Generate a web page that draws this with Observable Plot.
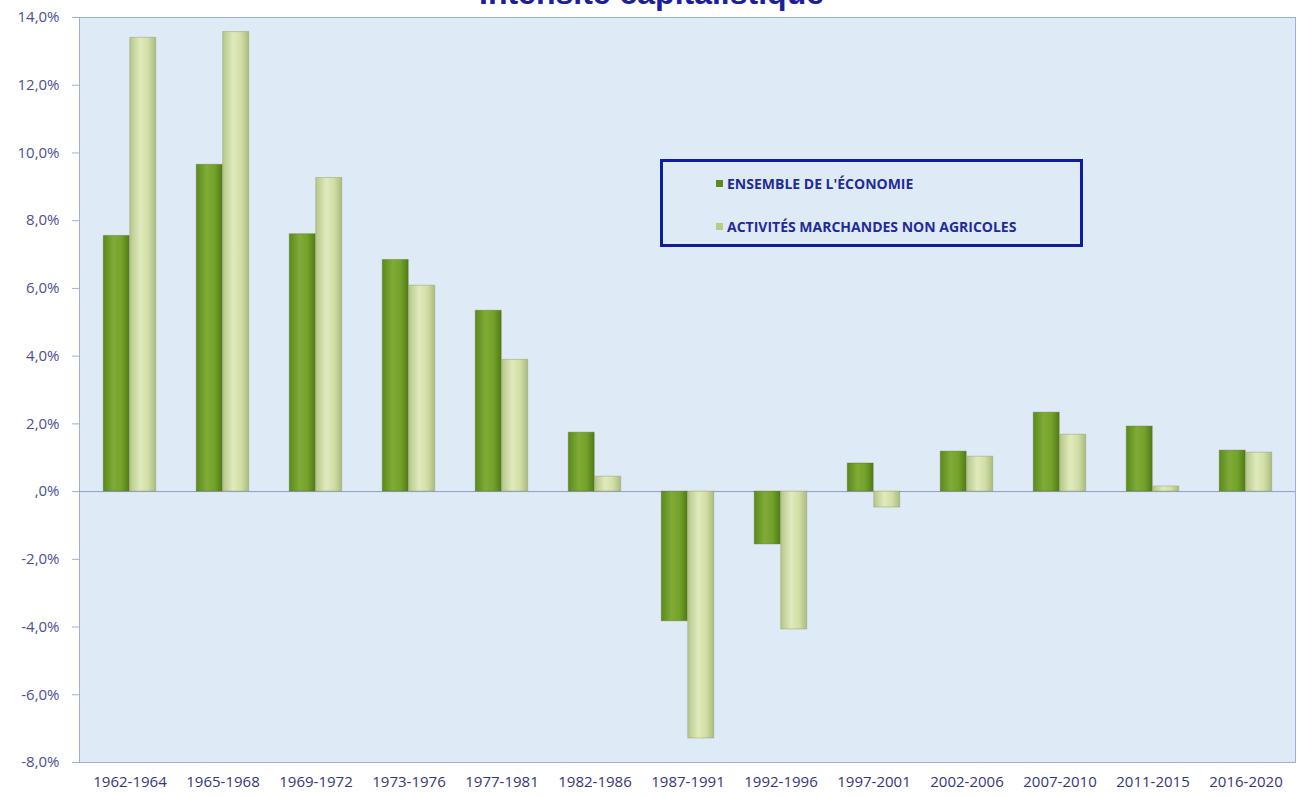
<!DOCTYPE html>
<html>
<head>
<meta charset="utf-8">
<script src="https://cdn.jsdelivr.net/npm/d3@7"></script>
<script src="https://cdn.jsdelivr.net/npm/@observablehq/plot@0.6"></script>
<style>
  html, body { margin: 0; padding: 0; background: #fff; overflow: hidden; }
  #wrap { position: relative; width: 1303px; height: 796px; }
  #title { position: absolute; top: -25px; left: 0; width: 1303px; text-align: center; line-height: 1;
    font: bold 32px "Liberation Sans", Arial, sans-serif; color: #1b1f9e; z-index: 2; }
  #legend { position: absolute; left: 660px; top: 159px; width: 417px; height: 82px;
    border: 3px solid #0f1c9c; box-sizing: content-box; font: bold 14px "Open Sans", "Liberation Sans", sans-serif;
    color: #1f2b9a; }
  #legend .item { position: absolute; left: 53px; display: flex; align-items: center; white-space: nowrap; }
  #legend .sw { width: 7px; height: 7px; margin-right: 4px; }
</style>
</head>
<body>
<div id="wrap">
  <div id="title">Intensité capitalistique</div>
  <div id="chart"></div>
  <div id="legend"></div>
</div>
<script>
const periods = ["1962-1964","1965-1968","1969-1972","1973-1976","1977-1981","1982-1986","1987-1991","1992-1996","1997-2001","2002-2006","2007-2010","2011-2015","2016-2020"];
const ensembleEconomie = [7.55, 9.65, 7.6, 6.84, 5.34, 1.74, -3.83, -1.56, 0.83, 1.18, 2.33, 1.92, 1.21];
const activitesMarchandes = [13.4, 13.57, 9.26, 6.08, 3.89, 0.44, -7.29, -4.07, -0.47, 1.03, 1.68, 0.15, 1.15];
const seriesNames = ["ENSEMBLE DE L'ÉCONOMIE", "ACTIVITÉS MARCHANDES NON AGRICOLES"];
const yTicks = [-8, -6, -4, -2, 0, 2, 4, 6, 8, 10, 12, 14];

const data = periods.map((p, i) => ({period: p, ens: ensembleEconomie[i], act: activitesMarchandes[i]}));

const W = 1303, H = 796, ml = 79, mr = 8, mt = 17, mb = 34;
const bw = (W - ml - mr) / periods.length;
const barW = 26.5;

const fmt = d => d === 0 ? ",0%" : d.toFixed(1).replace(".", ",") + "%";

const chart = Plot.plot({
  width: W, height: H,
  marginLeft: ml, marginRight: mr, marginTop: mt, marginBottom: mb,
  x: {domain: periods, padding: 0},
  y: {domain: [-8, 14]},
  marks: [
    Plot.frame({fill: "#dfeaf7", stroke: "#a3acd2"}),
    Plot.ruleY([0], {stroke: "#8f9cc8", strokeWidth: 1}),
    Plot.barY(data, {x: "period", y: "ens", fill: "url(#gDark)", insetLeft: bw/2 - barW, insetRight: bw/2, stroke: "#4a6b18", strokeOpacity: 0.35}),
    Plot.barY(data, {x: "period", y: "act", fill: "url(#gLight)", insetLeft: bw/2, insetRight: bw/2 - barW, stroke: "#8b9a62", strokeOpacity: 0.45}),
    Plot.axisY({ticks: yTicks, tickFormat: fmt, tickSize: 7, tickPadding: 13, label: null, stroke: "#a3acd2",
      fill: "#4b4f95", fontSize: 15, fontFamily: "'Open Sans', sans-serif"}),
    Plot.axisX({tickSize: 0, tickPadding: 14, label: null, fill: "#33367a", fontSize: 15,
      fontFamily: "'Open Sans', sans-serif"})
  ]
});

const svg = d3.select(chart);
const defs = svg.insert("defs", ":first-child");
function grad(id, stops) {
  const g = defs.append("linearGradient").attr("id", id).attr("x1", 0).attr("x2", 1).attr("y1", 0).attr("y2", 0);
  stops.forEach(([o, c]) => g.append("stop").attr("offset", o).attr("stop-color", c));
}
grad("gDark", [[0, "#5a8a1c"], [0.4, "#80ab36"], [0.7, "#73a22a"], [1, "#517c16"]]);
grad("gLight", [[0, "#b6c78a"], [0.4, "#e0eabd"], [0.7, "#d2dea6"], [1, "#abbc80"]]);

document.getElementById("chart").appendChild(chart);

const legend = document.getElementById("legend");
const swColors = ["#5d8a1f", "#b9cc86"];
seriesNames.forEach((name, i) => {
  const it = document.createElement("div");
  it.className = "item";
  it.style.top = (i === 0 ? 12 : 55) + "px";
  const sw = document.createElement("span");
  sw.className = "sw"; sw.style.background = swColors[i];
  const tx = document.createElement("span");
  tx.textContent = name;
  it.appendChild(sw); it.appendChild(tx);
  legend.appendChild(it);
});
</script>
</body>
</html>
